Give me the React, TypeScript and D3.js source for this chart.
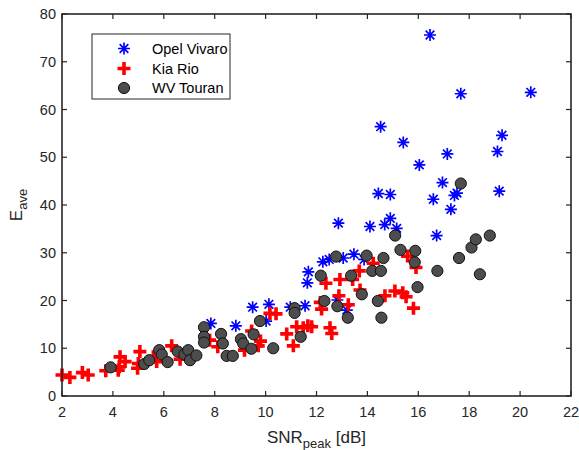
import React, { useEffect, useRef } from "react";
import * as d3 from "d3";

// [SNR_peak, E_ave]
const opelVivaro: [number, number][] = [
  [7.85, 15.2], [8.83, 14.7], [9.49, 18.6], [10.02, 15.7], [10.13, 19.2],
  [10.97, 18.6], [11.55, 18.9], [11.64, 23.7], [11.68, 26.0], [12.25, 28.1],
  [12.5, 28.6], [12.82, 20.1], [12.86, 36.2], [13.05, 28.9], [13.19, 18.0],
  [13.47, 29.7], [13.87, 28.6], [14.1, 35.5], [14.43, 42.4], [14.52, 56.4],
  [14.68, 35.9], [14.9, 37.2], [14.9, 42.2], [15.15, 35.1], [15.41, 53.1],
  [16.04, 48.4], [16.46, 75.6], [16.59, 41.2], [16.72, 33.6], [16.95, 44.7],
  [17.14, 50.7], [17.28, 39.1], [17.42, 42.0], [17.52, 42.5], [17.67, 63.3],
  [19.11, 51.2], [19.18, 42.9], [19.29, 54.6], [20.42, 63.6],
];

const kiaRio: [number, number][] = [
  [2.0, 4.4], [2.31, 3.9], [2.8, 4.9], [3.03, 4.4], [3.72, 5.3], [4.21, 5.4],
  [4.25, 6.1], [4.28, 8.2], [4.48, 7.2], [4.97, 5.8], [5.0, 6.8], [5.06, 9.3],
  [5.59, 8.2], [5.72, 7.2], [6.31, 10.5], [6.64, 7.7], [7.8, 11.7], [8.12, 10.3],
  [9.17, 9.6], [9.45, 13.6], [9.71, 10.5], [9.8, 11.5], [10.17, 17.3], [10.41, 17.2],
  [10.83, 13.0], [11.09, 10.5], [11.22, 14.5], [11.48, 14.3], [11.66, 14.7],
  [11.81, 14.5], [12.15, 19.6], [12.2, 18.2], [12.37, 23.6], [12.53, 14.3],
  [12.6, 13.1], [12.88, 21.0], [12.92, 24.4], [13.25, 19.1], [13.42, 24.4],
  [13.68, 26.2], [13.71, 22.2], [14.23, 27.8], [14.69, 21.0], [15.08, 22.0],
  [15.39, 21.6], [15.52, 20.8], [15.58, 29.3], [15.81, 18.4], [15.91, 26.9],
];

const wvTouran: [number, number][] = [
  [3.91, 6.0], [5.23, 6.7], [5.43, 7.5], [5.82, 9.6], [5.92, 8.7], [6.15, 7.1],
  [6.55, 9.3], [6.81, 8.7], [6.96, 9.6], [7.03, 7.5], [7.28, 8.5], [7.58, 14.4],
  [7.58, 12.4], [7.58, 11.2], [8.25, 13.0], [8.32, 11.0], [8.47, 8.4], [8.71, 8.4],
  [9.03, 11.9], [9.12, 11.0], [9.44, 9.9], [9.53, 12.9], [9.78, 15.7], [10.3, 10.0],
  [11.14, 18.4], [11.14, 17.4], [11.38, 12.4], [12.17, 25.2], [12.31, 19.9],
  [12.77, 29.2], [12.82, 18.8], [13.23, 16.4], [13.36, 25.2], [13.78, 21.3],
  [13.97, 29.4], [14.19, 26.2], [14.41, 19.9], [14.53, 26.2], [14.55, 16.4],
  [14.63, 28.9], [15.09, 33.6], [15.3, 30.6], [15.88, 30.4], [15.86, 28.0],
  [15.97, 22.8], [16.75, 26.2], [17.6, 28.9], [17.67, 44.5], [18.09, 31.1],
  [18.26, 32.8], [18.42, 25.5], [18.81, 33.6],
];

const xTicks = [2, 4, 6, 8, 10, 12, 14, 16, 18, 20, 22];
const yTicks = [0, 10, 20, 30, 40, 50, 60, 70, 80];
const legendNames = ["Opel Vivaro", "Kia Rio", "WV Touran"];

const W = 579;
const H = 450;
const margin = { top: 14, right: 8, bottom: 54, left: 62 };
const axisColor = "#262626";
const font = "Arial, 'Liberation Sans', Helvetica, sans-serif";

function asterisk(s: number) {
  const d = s * 0.72;
  return `M${-s},0L${s},0M0,${-s}L0,${s}M${-d},${-d}L${d},${d}M${-d},${d}L${d},${-d}`;
}
function plus(s: number) {
  return `M${-s},0L${s},0M0,${-s}L0,${s}`;
}

export default function App() {
  const ref = useRef<SVGSVGElement | null>(null);

  useEffect(() => {
    if (!ref.current) return;
    const svg = d3.select(ref.current);
    svg.selectAll("*").remove();

    const x = d3.scaleLinear().domain([2, 22]).range([margin.left, W - margin.right]);
    const y = d3.scaleLinear().domain([0, 80]).range([H - margin.bottom, margin.top]);

    svg.append("rect").attr("width", W).attr("height", H).attr("fill", "white");

    const plot = svg.append("g");

    const drawOpel = (sel: d3.Selection<any, any, any, any>) =>
      sel.attr("d", asterisk(6)).attr("stroke", "#0000ff").attr("stroke-width", 1.7).attr("fill", "none");
    const drawKia = (sel: d3.Selection<any, any, any, any>) =>
      sel.attr("d", plus(6.5)).attr("stroke", "#ff0000").attr("stroke-width", 3.6).attr("fill", "none");
    const drawTouran = (sel: d3.Selection<any, any, any, any>) =>
      sel.attr("r", 5.6).attr("fill", "#4d4d4d").attr("stroke", "#111").attr("stroke-width", 1);

    plot.append("g").selectAll("path").data(opelVivaro).join("path")
      .attr("transform", (d) => `translate(${x(d[0])},${y(d[1])})`)
      .call(drawOpel);

    plot.append("g").selectAll("path").data(kiaRio).join("path")
      .attr("transform", (d) => `translate(${x(d[0])},${y(d[1])})`)
      .call(drawKia);

    plot.append("g").selectAll("circle").data(wvTouran).join("circle")
      .attr("cx", (d) => x(d[0])).attr("cy", (d) => y(d[1]))
      .call(drawTouran);

    // axes box
    const g = svg.append("g");
    g.append("rect")
      .attr("x", x(2)).attr("y", y(80)).attr("width", x(22) - x(2)).attr("height", y(0) - y(80))
      .attr("fill", "none").attr("stroke", axisColor).attr("stroke-width", 1.6);

    const tl = 5;
    xTicks.forEach((t) => {
      g.append("line").attr("x1", x(t)).attr("x2", x(t)).attr("y1", y(0)).attr("y2", y(0) - tl)
        .attr("stroke", axisColor).attr("stroke-width", 1.2);
      g.append("line").attr("x1", x(t)).attr("x2", x(t)).attr("y1", y(80)).attr("y2", y(80) + tl)
        .attr("stroke", axisColor).attr("stroke-width", 1.2);
      g.append("text").attr("x", x(t)).attr("y", y(0) + 21).attr("text-anchor", "middle")
        .attr("font-family", font).attr("font-size", 14.5).attr("fill", axisColor).text(t);
    });
    yTicks.forEach((t) => {
      g.append("line").attr("x1", x(2)).attr("x2", x(2) + tl).attr("y1", y(t)).attr("y2", y(t))
        .attr("stroke", axisColor).attr("stroke-width", 1.2);
      g.append("line").attr("x1", x(22)).attr("x2", x(22) - tl).attr("y1", y(t)).attr("y2", y(t))
        .attr("stroke", axisColor).attr("stroke-width", 1.2);
      g.append("text").attr("x", x(2) - 6).attr("y", y(t) + 5).attr("text-anchor", "end")
        .attr("font-family", font).attr("font-size", 14.5).attr("fill", axisColor).text(t);
    });

    // axis labels
    const xl = g.append("text").attr("x", (x(2) + x(22)) / 2).attr("y", 443).attr("text-anchor", "middle")
      .attr("font-family", font).attr("font-size", 17).attr("fill", axisColor);
    xl.append("tspan").text("SNR");
    xl.append("tspan").attr("font-size", 13).attr("dy", 5).text("peak");
    xl.append("tspan").attr("dy", -5).text(" [dB]");

    const yl = g.append("text").attr("transform", `translate(22,${(y(0) + y(80)) / 2}) rotate(-90)`)
      .attr("text-anchor", "middle").attr("font-family", font).attr("font-size", 17).attr("fill", axisColor);
    yl.append("tspan").text("E");
    yl.append("tspan").attr("font-size", 13).attr("dy", 5).text("ave");

    // legend
    const lg = svg.append("g");
    lg.append("rect").attr("x", 92).attr("y", 34).attr("width", 138).attr("height", 65)
      .attr("fill", "white").attr("stroke", axisColor).attr("stroke-width", 1);
    const rows = [48.5, 68.5, 88];
    legendNames.forEach((name, i) => {
      const cy = rows[i];
      if (i === 0) {
        lg.append("path").attr("transform", `translate(124,${cy})`).call(drawOpel);
      } else if (i === 1) {
        lg.append("path").attr("transform", `translate(124,${cy})`).call(drawKia);
      } else {
        lg.append("circle").attr("cx", 124).attr("cy", cy).call(drawTouran);
      }
      lg.append("text").attr("x", 152).attr("y", cy + 5).attr("font-family", font)
        .attr("font-size", 14.5).attr("fill", "#000").text(name);
    });
  }, []);

  return (
    <svg ref={ref} width={W} height={H} style={{ position: "absolute", left: 0, top: 0, display: "block" }} />
  );
}
